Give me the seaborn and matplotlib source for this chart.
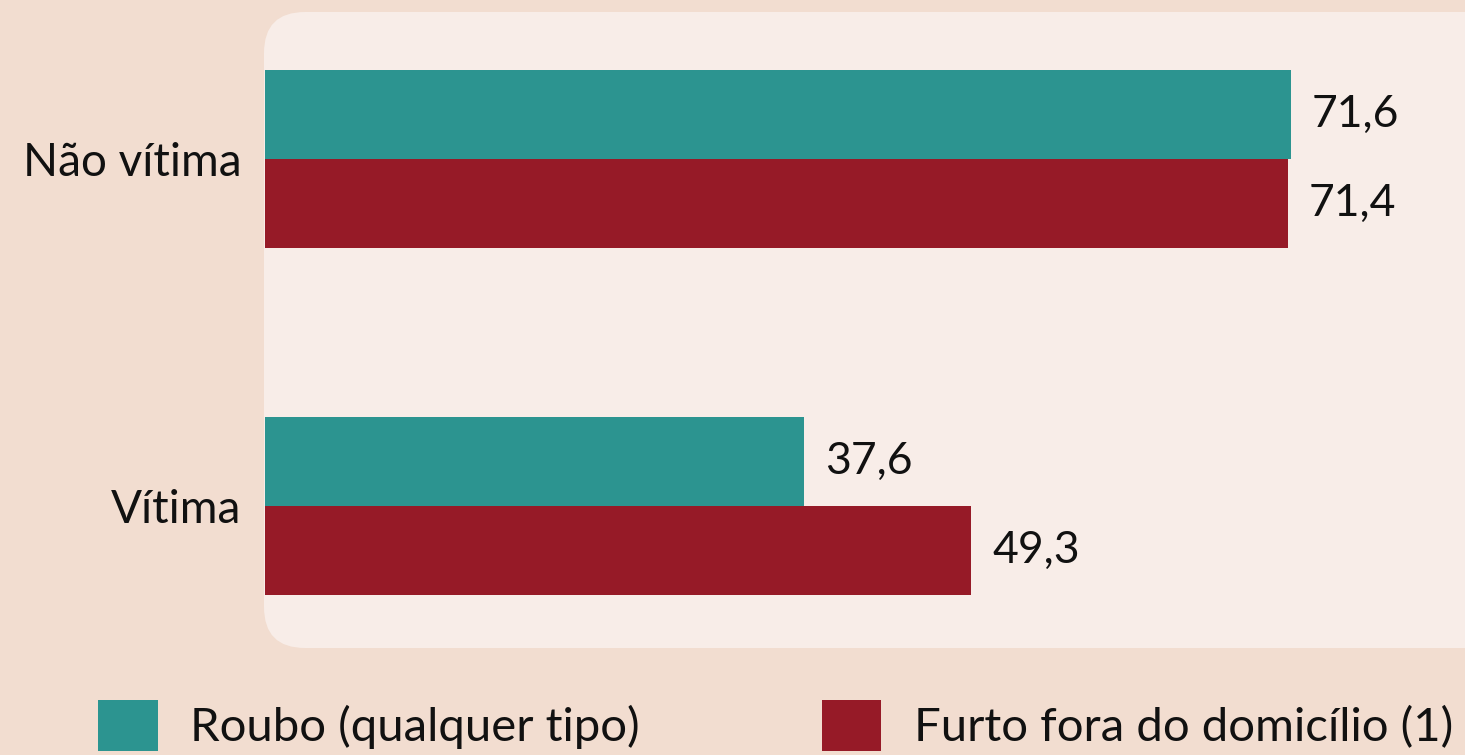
import matplotlib
matplotlib.use("Agg")
import matplotlib.pyplot as plt
from matplotlib.patches import FancyBboxPatch, Patch
import seaborn as sns
import pandas as pd

categories = ["Não vítima", "Vítima"]
series = ["Roubo (qualquer tipo)", "Furto fora do domicílio (1)"]
roubo = [71.6, 37.6]
furto = [71.4, 49.3]
colors = ["#2C9490", "#961A27"]

df = pd.DataFrame({
    "cat": categories * 2,
    "serie": [series[0]] * 2 + [series[1]] * 2,
    "valor": roubo + furto,
})

sns.set_theme(style="white")
plt.rcParams["font.family"] = ["Lato", "DejaVu Sans"]

W, H = 1465, 755
fig = plt.figure(figsize=(W / 100, H / 100), dpi=100)
fig.patch.set_facecolor("#F2DDD0")

# rounded panel
panel = FancyBboxPatch((264 / W, 1 - 648 / H), (1560 - 264) / W, (648 - 12) / H,
                       boxstyle="round,pad=0,rounding_size=0.028",
                       transform=fig.transFigure, facecolor="#F8EDE8",
                       edgecolor="none", zorder=-5, mutation_aspect=W / H)
fig.patches.append(panel)

ax = fig.add_axes([265 / W, 1 - 648 / H, 1 - 265 / W, (648 - 12) / H])
ax.set_facecolor("none")
sns.barplot(data=df, y="cat", x="valor", hue="serie", palette=colors,
            orient="h", width=0.515, ax=ax, legend=False, saturation=1,
            linewidth=0)

px_per_unit = (1291 - 265)
ax.set_xlim(0, 71.6 * (W - 265) / px_per_unit)
ax.set_ylim(1 + (648 - 506) / 347, -(159 - 12) / 347)

for c in ax.containers:
    ax.bar_label(c, labels=[f"{v:.1f}".replace(".", ",") for v in c.datavalues],
                 padding=15, fontsize=32, color="#111111")

ax.set_xlabel("")
ax.set_ylabel("")
ax.set_xticks([])
ax.tick_params(axis="y", length=0, pad=17, labelsize=33, labelcolor="#111111")
for s in ax.spines.values():
    s.set_visible(False)

handles = [Patch(facecolor=colors[0], edgecolor="none"),
           Patch(facecolor=colors[1], edgecolor="none")]
fig.legend(handles, series, loc="upper left", bbox_to_anchor=(98 / W, 1 - 700 / H),
           ncol=2, frameon=False, fontsize=34, handlelength=1.27, handleheight=1.27,
           handletextpad=0.68, columnspacing=3.85, borderpad=0, borderaxespad=0,
           labelcolor="#111111")

fig.savefig("out.png", dpi=100, facecolor=fig.get_facecolor())
